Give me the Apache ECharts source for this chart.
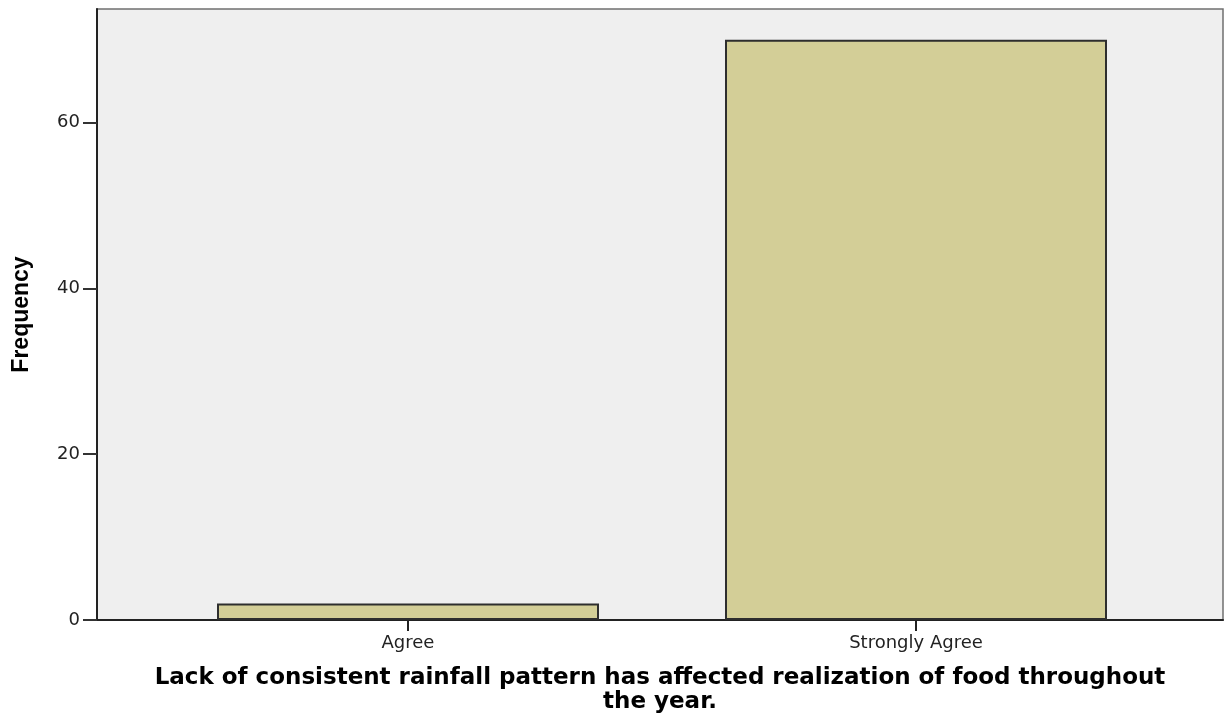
<!DOCTYPE html>
<html>
<head>
<meta charset="utf-8">
<script src="https://cdn.jsdelivr.net/npm/echarts@6/dist/echarts.min.js"></script>
<style>
  html, body { margin: 0; padding: 0; background: #ffffff; }
  #chart { width: 1226px; height: 718px; }
</style>
</head>
<body>
<div id="chart"></div>
<script>
// data
const categories = ['Agree', 'Strongly Agree']
const frequency = [2, 70]
const yTicks = [0, 20, 40, 60]
const yMax = 73.7

const xTitle = 'Lack of consistent rainfall pattern has affected realization of food throughout\nthe year.'
const yTitle = 'Frequency'

const chart = echarts.init(document.getElementById('chart'))

const option = {
  animation: false,
  grid: [
    // frame + grey background
    {
      left: 97, right: 3, top: 9, bottom: 98,
      outerBoundsMode: 'none',
      show: true,
      backgroundColor: '#efefef',
      borderColor: '#707070',
      borderWidth: 1.5
    },
    // inner grid for the bars, so the categories sit where the picture has them
    { left: 154, right: 56, top: 9, bottom: 98, outerBoundsMode: 'none' }
  ],
  xAxis: [
    {
      gridIndex: 0,
      type: 'value',
      min: 0,
      max: 1,
      axisLine: { show: true, lineStyle: { color: '#222', width: 2 } },
      axisTick: { show: false },
      axisLabel: { show: false },
      splitLine: { show: false },
      name: xTitle,
      nameLocation: 'middle',
      nameGap: 46,
      nameTextStyle: {
        fontFamily: 'DejaVu Sans',
        fontWeight: 'bold',
        fontSize: 23,
        lineHeight: 24,
        color: '#000'
      }
    },
    {
      gridIndex: 1,
      type: 'category',
      data: categories,
      axisLine: { show: false },
      axisTick: { show: true, alignWithLabel: true, length: 11, lineStyle: { color: '#222', width: 2 } },
      axisLabel: { margin: 14, fontFamily: 'DejaVu Sans', fontSize: 18, color: '#222' },
      splitLine: { show: false }
    }
  ],
  yAxis: [
    {
      gridIndex: 0,
      type: 'value',
      min: 0,
      max: yMax,
      axisLine: { show: true, lineStyle: { color: '#222', width: 2 } },
      axisTick: { show: true, length: 14, customValues: yTicks, lineStyle: { color: '#333', width: 2 } },
      axisLabel: { margin: 17, customValues: yTicks, fontFamily: 'DejaVu Sans', fontSize: 18, color: '#222' },
      splitLine: { show: false },
      name: yTitle,
      nameLocation: 'middle',
      nameRotate: 90,
      nameGap: 64,
      nameTextStyle: {
        fontFamily: 'Liberation Sans',
        fontWeight: 'bold',
        fontSize: 23,
        color: '#000'
      }
    },
    {
      gridIndex: 1,
      type: 'value',
      min: 0,
      max: yMax,
      show: false
    }
  ],
  series: [
    {
      type: 'bar',
      xAxisIndex: 1,
      yAxisIndex: 1,
      data: frequency,
      barWidth: 382,
      itemStyle: {
        color: '#d3ce97',
        borderColor: '#2e2e2e',
        borderWidth: 2
      }
    }
  ]
}

chart.setOption(option)
</script>
</body>
</html>
